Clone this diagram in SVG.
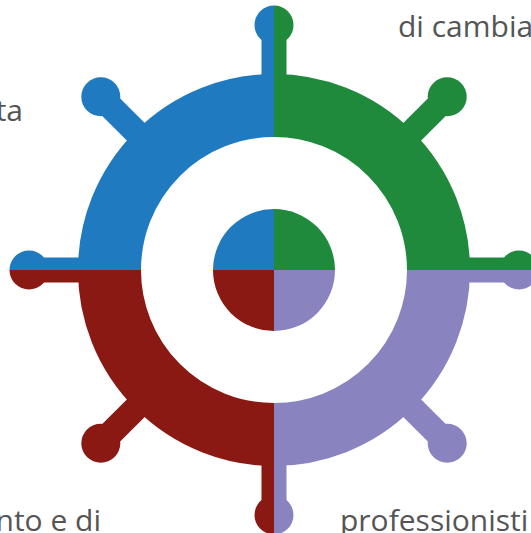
<svg xmlns="http://www.w3.org/2000/svg" xmlns:xlink="http://www.w3.org/1999/xlink" width="531" height="533" viewBox="0 0 531 533">
  <style>
    .lbl { font-family: "Open Sans", "Liberation Sans", sans-serif; font-size: 30px; fill: #555555; }
    .ring { fill: none; stroke-width: 63; }
    .spoke { stroke-width: 25; stroke-linecap: butt; }
  </style>
  <defs>
    <clipPath id="qTL"><rect x="0" y="0" width="274" height="270"/></clipPath>
    <clipPath id="qTR"><rect x="274" y="0" width="257" height="270"/></clipPath>
    <clipPath id="qBL"><rect x="0" y="270" width="274" height="263"/></clipPath>
    <clipPath id="qBR"><rect x="274" y="270" width="257" height="263"/></clipPath>
    <g id="wheel">
      <circle class="ring" cx="274" cy="270" r="164.5"/>
      <circle cx="274" cy="270" r="61" stroke="none"/>
      <g class="spoke">
        <line x1="274" y1="90" x2="274" y2="25"/>
        <line x1="274" y1="450" x2="274" y2="515"/>
        <line x1="94" y1="270" x2="29" y2="270"/>
        <line x1="454" y1="270" x2="519" y2="270"/>
        <line x1="146.7" y1="142.7" x2="100.8" y2="96.8"/>
        <line x1="401.3" y1="142.7" x2="447.2" y2="96.8"/>
        <line x1="146.7" y1="397.3" x2="100.8" y2="443.2"/>
        <line x1="401.3" y1="397.3" x2="447.2" y2="443.2"/>
      </g>
      <g stroke="none">
        <circle cx="274" cy="25" r="19.5"/>
        <circle cx="274" cy="515" r="19.5"/>
        <circle cx="29" cy="270" r="19.5"/>
        <circle cx="519" cy="270" r="19.5"/>
        <circle cx="100.8" cy="96.8" r="19.5"/>
        <circle cx="447.2" cy="96.8" r="19.5"/>
        <circle cx="100.8" cy="443.2" r="19.5"/>
        <circle cx="447.2" cy="443.2" r="19.5"/>
      </g>
    </g>
  </defs>
  <rect width="531" height="533" fill="#ffffff"/>
  <g id="quadrant-blue" clip-path="url(#qTL)">
    <use xlink:href="#wheel" href="#wheel" fill="#1f7abf" stroke="#1f7abf"/>
  </g>
  <g id="quadrant-green" clip-path="url(#qTR)">
    <use xlink:href="#wheel" href="#wheel" fill="#1f8a3c" stroke="#1f8a3c"/>
  </g>
  <g id="quadrant-red" clip-path="url(#qBL)">
    <use xlink:href="#wheel" href="#wheel" fill="#8a1914" stroke="#8a1914"/>
  </g>
  <g id="quadrant-purple" clip-path="url(#qBR)">
    <use xlink:href="#wheel" href="#wheel" fill="#8984c0" stroke="#8984c0"/>
  </g>
  <g id="labels">
    <text class="lbl" x="398" y="37">di cambia</text>
    <text class="lbl" x="23" y="121" text-anchor="end">ta</text>
    <text class="lbl" x="101" y="531" text-anchor="end">nto e di</text>
    <text class="lbl" x="340" y="531">professionisti</text>
  </g>
</svg>
